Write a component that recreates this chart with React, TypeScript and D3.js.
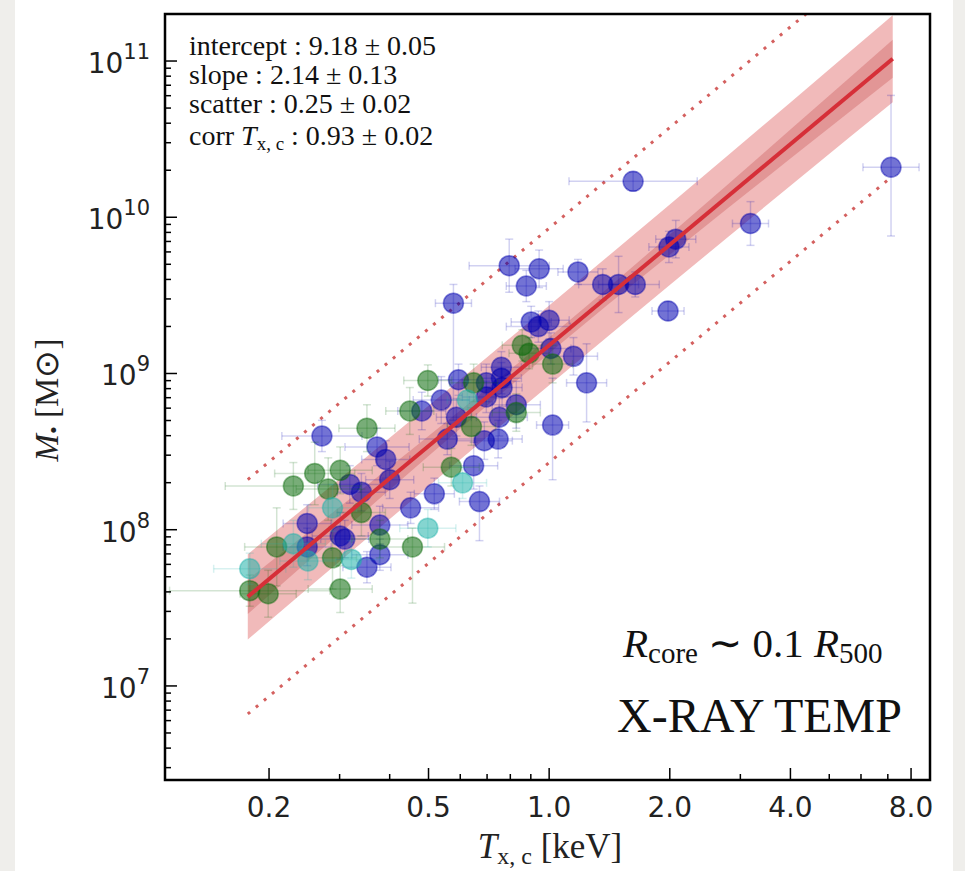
import React from 'react';
import { scaleLog, line } from 'd3';

// T [keV], log10 M, x error (dex), y error low (dex), y error high (dex)
const bluePoints = [
  [1.62, 10.23, 0.16, 0.06, 0.06],
  [7.13, 10.32, 0.07, 0.44, 0.46],
  [3.18, 9.96, 0.045, 0.14, 0.14],
  [0.795, 9.69, 0.1, 0.17, 0.17],
  [0.944, 9.67, 0.06, 0.12, 0.12],
  [0.877, 9.56, 0.05, 0.1, 0.1],
  [1.18, 9.65, 0.05, 0.08, 0.08],
  [1.36, 9.57, 0.06, 0.1, 0.1],
  [1.49, 9.57, 0.05, 0.18, 0.18],
  [1.64, 9.57, 0.06, 0.08, 0.08],
  [2.07, 9.86, 0.05, 0.12, 0.12],
  [1.99, 9.81, 0.05, 0.1, 0.1],
  [1.98, 9.4, 0.04, 0.06, 0.06],
  [0.577, 9.45, 0.045, 0.75, 0.12],
  [0.902, 9.33, 0.05, 0.1, 0.1],
  [0.94, 9.3, 0.08, 0.1, 0.1],
  [1.0, 9.34, 0.05, 0.12, 0.12],
  [1.01, 9.16, 0.05, 0.1, 0.1],
  [1.15, 9.11, 0.06, 0.12, 0.12],
  [1.24, 8.94, 0.05, 0.25, 0.25],
  [0.594, 8.96, 0.05, 0.1, 0.1],
  [0.697, 8.94, 0.06, 0.12, 0.12],
  [0.76, 9.04, 0.05, 0.1, 0.1],
  [0.76, 8.97, 0.05, 0.1, 0.1],
  [0.763, 8.91, 0.05, 0.12, 0.12],
  [0.538, 8.83, 0.07, 0.15, 0.15],
  [0.697, 8.85, 0.06, 0.1, 0.1],
  [0.481, 8.76, 0.06, 0.12, 0.12],
  [0.587, 8.72, 0.05, 0.12, 0.12],
  [0.828, 8.8, 0.06, 0.15, 0.15],
  [0.751, 8.72, 0.07, 0.12, 0.12],
  [1.02, 8.67, 0.04, 0.35, 0.3],
  [0.557, 8.58, 0.07, 0.1, 0.1],
  [0.689, 8.57, 0.07, 0.12, 0.12],
  [0.746, 8.58, 0.06, 0.12, 0.12],
  [0.391, 8.45, 0.06, 0.12, 0.12],
  [0.372, 8.53, 0.08, 0.12, 0.12],
  [0.648, 8.41, 0.06, 0.15, 0.15],
  [0.271, 8.6, 0.1, 0.1, 0.1],
  [0.4, 8.32, 0.06, 0.12, 0.12],
  [0.318, 8.29, 0.08, 0.12, 0.12],
  [0.34, 8.24, 0.06, 0.12, 0.12],
  [0.517, 8.23, 0.05, 0.1, 0.1],
  [0.67, 8.18, 0.05, 0.25, 0.1],
  [0.451, 8.14, 0.07, 0.1, 0.1],
  [0.249, 8.04, 0.06, 0.12, 0.12],
  [0.378, 8.03, 0.07, 0.12, 0.12],
  [0.378, 7.84, 0.07, 0.1, 0.1],
  [0.351, 7.76, 0.06, 0.1, 0.1],
  [0.249, 7.89, 0.06, 0.12, 0.12],
  [0.301, 7.96, 0.07, 0.15, 0.15],
  [0.309, 7.94, 0.06, 0.12, 0.12],
];

const greenPoints = [
  [0.498, 8.955, 0.06, 0.1, 0.1],
  [0.449, 8.76, 0.06, 0.15, 0.15],
  [0.857, 9.18, 0.05, 0.1, 0.1],
  [0.891, 9.13, 0.05, 0.1, 0.1],
  [1.02, 9.06, 0.05, 0.12, 0.12],
  [0.648, 8.94, 0.06, 0.12, 0.12],
  [0.64, 8.66, 0.06, 0.12, 0.12],
  [0.828, 8.75, 0.06, 0.12, 0.12],
  [0.57, 8.4, 0.07, 0.12, 0.12],
  [0.351, 8.65, 0.07, 0.15, 0.15],
  [0.26, 8.36, 0.1, 0.2, 0.2],
  [0.301, 8.38, 0.08, 0.15, 0.15],
  [0.23, 8.28, 0.17, 0.15, 0.15],
  [0.281, 8.26, 0.08, 0.2, 0.2],
  [0.34, 8.11, 0.06, 0.15, 0.15],
  [0.378, 7.94, 0.07, 0.12, 0.12],
  [0.456, 7.89, 0.08, 0.36, 0.12],
  [0.209, 7.89, 0.08, 0.25, 0.25],
  [0.288, 7.82, 0.06, 0.2, 0.2],
  [0.179, 7.61, 0.2, 0.1, 0.1],
  [0.199, 7.59, 0.07, 0.15, 0.15],
  [0.301, 7.62, 0.08, 0.15, 0.15],
];

const cyanPoints = [
  [0.625, 8.83, 0.05, 0.12, 0.12],
  [0.608, 8.3, 0.06, 0.1, 0.1],
  [0.498, 8.01, 0.07, 0.12, 0.12],
  [0.288, 8.14, 0.06, 0.15, 0.15],
  [0.23, 7.91, 0.08, 0.15, 0.15],
  [0.25, 7.8, 0.07, 0.12, 0.12],
  [0.321, 7.81, 0.07, 0.12, 0.12],
  [0.179, 7.75, 0.09, 0.1, 0.1],
];

// fit parameters (from the legend)
const fitIntercept = 9.18;
const fitInterceptErr = 0.05;
const fitSlope = 2.14;
const fitSlopeErr = 0.13;
const fitScatter = 0.25;
const fitRange = [0.177, 7.2];
const bandT = [0.177, 0.25, 0.35, 0.5, 0.7, 1, 1.4, 2, 2.8, 4, 5.6, 7.2];

const xMajor = [0.2, 0.5, 1, 2, 4, 8];
const xMajorLabels = ['0.2', '0.5', '1.0', '2.0', '4.0', '8.0'];
const xMinor = [0.3, 0.4, 0.6, 0.7, 0.8, 0.9, 3, 5, 6, 7];
const yMajorExp = [7, 8, 9, 10, 11];

const W = 965;
const H = 871;
const m = { left: 165, right: 930, top: 14, bottom: 780 };

const x = scaleLog().domain([0.11, 8.92]).range([m.left, m.right]);
const y = scaleLog().domain([2.5e6, 2.0e11]).range([m.bottom, m.top]);

const yMinor: number[] = [];
for (let e = 6; e <= 11; e++) {
  for (let k = 2; k <= 9; k++) {
    const v = k * Math.pow(10, e);
    if (v > 2.5e6 && v < 2.0e11) yMinor.push(v);
  }
}

const fitLog = (t: number) => fitIntercept + fitSlope * Math.log10(t);
const fitErr = (t: number) =>
  Math.sqrt(fitInterceptErr ** 2 + (fitSlopeErr * Math.log10(t)) ** 2);

const lineGen = line<[number, number]>()
  .x((d) => x(d[0]))
  .y((d) => y(Math.pow(10, d[1])));

const bandPath = (w: (t: number) => number) => {
  const upper = bandT.map((t) => [t, fitLog(t) + w(t)] as [number, number]);
  const lower = bandT
    .slice()
    .reverse()
    .map((t) => [t, fitLog(t) - w(t)] as [number, number]);
  return lineGen(upper.concat(lower)) + 'Z';
};

const series = [
  { pts: bluePoints, color: '#0000b0' },
  { pts: greenPoints, color: '#0a6a0a' },
  { pts: cyanPoints, color: '#20b2aa' },
];

const Points = ({ pts, color }: { pts: number[][]; color: string }) => (
  <g>
    {pts.map((p, i) => {
      const cx = x(p[0]);
      const cy = y(Math.pow(10, p[1]));
      const x0 = x(p[0] / Math.pow(10, p[2]));
      const x1 = x(p[0] * Math.pow(10, p[2]));
      const y0 = y(Math.pow(10, p[1] - p[3]));
      const y1 = y(Math.pow(10, p[1] + p[4]));
      return (
        <g key={i} stroke={color} strokeOpacity={0.18} strokeWidth={1.5}>
          <line x1={x0} x2={x1} y1={cy} y2={cy} />
          <line x1={cx} x2={cx} y1={y0} y2={y1} />
          <line x1={x0} x2={x0} y1={cy - 4} y2={cy + 4} />
          <line x1={x1} x2={x1} y1={cy - 4} y2={cy + 4} />
          <line x1={cx - 4} x2={cx + 4} y1={y0} y2={y0} />
          <line x1={cx - 4} x2={cx + 4} y1={y1} y2={y1} />
        </g>
      );
    })}
    {pts.map((p, i) => (
      <circle
        key={'c' + i}
        cx={x(p[0])}
        cy={y(Math.pow(10, p[1]))}
        r={10}
        fill={color}
        fillOpacity={0.55}
        stroke={color}
        strokeOpacity={0.45}
        strokeWidth={1.5}
      />
    ))}
  </g>
);

export default function App() {
  const fitLine: [number, number][] = fitRange.map((t) => [t, fitLog(t)]);
  const upDot: [number, number][] = fitRange.map((t) => [t, fitLog(t) + 3 * fitScatter]);
  const loDot: [number, number][] = fitRange.map((t) => [t, fitLog(t) - 3 * fitScatter]);
  const serif = '"Liberation Serif", "Times New Roman", serif';
  const sans = '"DejaVu Sans", sans-serif';

  return (
    <div style={{ position: 'absolute', left: 0, top: 0 }}>
      <svg width={W} height={H} style={{ display: 'block' }}>
        <rect width={W} height={H} fill="#efeeeb" />
        <rect x={15} width={938} height={H} fill="#ffffff" />
        <defs>
          <clipPath id="plot">
            <rect x={m.left} y={m.top} width={m.right - m.left} height={m.bottom - m.top} />
          </clipPath>
        </defs>

        <g clipPath="url(#plot)">
          <path
            d={bandPath((t) => Math.sqrt(fitScatter ** 2 + fitErr(t) ** 2))}
            fill="#d9403f"
            fillOpacity={0.36}
          />
          <path d={bandPath(fitErr)} fill="#b83030" fillOpacity={0.26} />
          <path
            d={lineGen(upDot) || ''}
            stroke="#d4605f"
            strokeWidth={3}
            strokeDasharray="3 7.5"
            fill="none"
          />
          <path
            d={lineGen(loDot) || ''}
            stroke="#d4605f"
            strokeWidth={3}
            strokeDasharray="3 7.5"
            fill="none"
          />
          {series.map((s, i) => (
            <Points key={i} pts={s.pts} color={s.color} />
          ))}
          <path d={lineGen(fitLine) || ''} stroke="#d62f38" strokeWidth={4} fill="none" />
        </g>

        {/* ticks */}
        <g stroke="#000" strokeWidth={1.5}>
          {xMajor.map((v) => (
            <line key={'xM' + v} x1={x(v)} x2={x(v)} y1={m.bottom} y2={m.bottom - 12} />
          ))}
          {xMinor.map((v) => (
            <line key={'xm' + v} x1={x(v)} x2={x(v)} y1={m.bottom} y2={m.bottom - 6} />
          ))}
          {yMajorExp.map((e) => (
            <line
              key={'yM' + e}
              x1={m.left}
              x2={m.left + 12}
              y1={y(Math.pow(10, e))}
              y2={y(Math.pow(10, e))}
            />
          ))}
          {yMinor.map((v) => (
            <line key={'ym' + v} x1={m.left} x2={m.left + 6} y1={y(v)} y2={y(v)} />
          ))}
        </g>
        <rect
          x={m.left}
          y={m.top}
          width={m.right - m.left}
          height={m.bottom - m.top}
          fill="none"
          stroke="#000"
          strokeWidth={2.5}
        />

        {/* tick labels */}
        <g fontFamily={sans} fill="#222" fontSize={28}>
          {xMajor.map((v, i) => (
            <text key={'xl' + v} x={x(v)} y={817} textAnchor="middle">
              {xMajorLabels[i]}
            </text>
          ))}
          {yMajorExp.map((e) => (
            <text key={'yl' + e} x={150} y={y(Math.pow(10, e)) + 12} textAnchor="end">
              10
              <tspan fontSize={21} dy={-14}>
                {e}
              </tspan>
            </text>
          ))}
        </g>

        {/* axis labels */}
        <text x={550} y={858} fontFamily={serif} fontSize={35} textAnchor="middle" fill="#222">
          <tspan fontStyle="italic">T</tspan>
          <tspan fontSize={24} dy={6}>x, c</tspan>
          <tspan dy={-6}>{'  [keV]'}</tspan>
        </text>
        <text
          transform="translate(58,400) rotate(-90)"
          fontFamily={serif}
          fontSize={33}
          textAnchor="middle"
          fill="#222"
        >
          <tspan fontStyle="italic">M</tspan>
          <tspan fontSize={22} dy={3}>•</tspan>
          <tspan dy={-3}>{'  [M⊙]'}</tspan>
        </text>

        {/* fit annotation */}
        <g fontFamily={serif} fontSize={28} fill="#111">
          <text x={189} y={55}>
            intercept :  {fitIntercept.toFixed(2)} ± {fitInterceptErr.toFixed(2)}
          </text>
          <text x={189} y={84}>
            slope :  {fitSlope.toFixed(2)} ± {fitSlopeErr.toFixed(2)}
          </text>
          <text x={189} y={113}>
            scatter :  {fitScatter.toFixed(2)} ± 0.02
          </text>
          <text x={189} y={145}>
            corr <tspan fontStyle="italic">T</tspan>
            <tspan fontSize={19} dy={5}>x, c</tspan>
            <tspan dy={-5}> :  0.93 ± 0.02</tspan>
          </text>
        </g>

        <text x={623} y={657} fontFamily={serif} fontSize={41} fill="#111">
          <tspan fontStyle="italic">R</tspan>
          <tspan fontSize={29} dy={6}>core</tspan>
          <tspan dy={-6}> ∼ 0.1 </tspan>
          <tspan fontStyle="italic">R</tspan>
          <tspan fontSize={29} dy={6}>500</tspan>
        </text>
        <text x={617} y={732} fontFamily={serif} fontSize={48} fill="#111">
          X-RAY TEMP
        </text>
      </svg>
    </div>
  );
}
